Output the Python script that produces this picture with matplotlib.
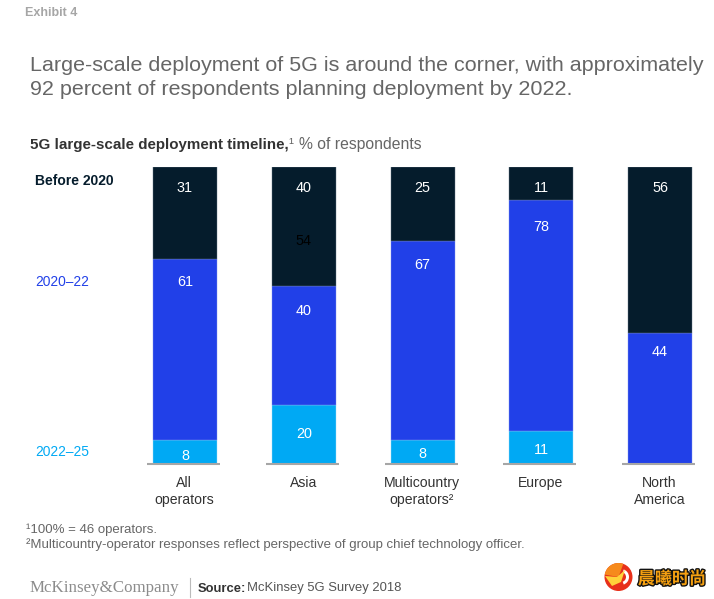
import matplotlib
matplotlib.use("Agg")
import matplotlib.pyplot as plt
from matplotlib.patches import Circle, Wedge, Polygon
import matplotlib.patheffects as pe

plt.rcParams['font.family'] = ['Liberation Sans', 'DejaVu Sans']

categories = ["All\noperators", "Asia", "Multicountry\noperators\u00b2", "Europe", "North\nAmerica"]
before_2020 = [31, 40, 25, 11, 56]
y2020_22 = [61, 40, 67, 78, 44]
y2022_25 = [8, 20, 8, 11, 0]
stray_label = "54"

DARK, BLUE, CYAN = "#051C2C", "#2140E8", "#00A9F4"
W, H = 714, 599
fig = plt.figure(figsize=(W/100, H/100), dpi=100, facecolor="white")

def T(x, y, s, **k):
    k.setdefault("va", "center")
    return fig.text(x/W, 1-(y+1.5)/H, s, **k)

ax = fig.add_axes([125/W, 1-464/H, (714-125)/W, 297/H])
spacing = 118.75
ax.set_xlim((125-185)/spacing, (714-185)/spacing)
ax.set_ylim(0, 100)
xs = list(range(len(categories)))
bw = 64/spacing
ax.bar(xs, y2022_25, bw, color=CYAN, edgecolor="#9FDBF8", linewidth=0.3)
ax.bar(xs, y2020_22, bw, bottom=y2022_25, color=BLUE, edgecolor="#8496EE", linewidth=0.3)
bot = [a+b for a, b in zip(y2022_25, y2020_22)]
ax.bar(xs, before_2020, bw, bottom=bot, color=DARK, edgecolor="#6A7C88", linewidth=0.3)

for spine in ax.spines.values():
    spine.set_visible(False)
ax.set_yticks([])
ax.set_xticks([x-0.005 for x in xs], categories, fontsize=10.1, color="#333333", linespacing=1.25)
ax.tick_params(axis="x", length=0, pad=8.5)
ax.patch.set_alpha(0)
for x in xs:
    ax.plot([x-38/spacing, x+35/spacing], [0, 0], color="#A6A6A6", lw=1.5, clip_on=False,
            solid_capstyle="butt", zorder=5)

# label drop below each segment's top edge, in pixels
drop_top = [21, 21, 21, 21, 21]
drop_mid = [23, 25, 24, 27, 19]
drop_low = [16, 29, 14, 19, 0]
vk = dict(ha="center", va="center", color="white", fontsize=10.4,
          textcoords="offset points")
for x, t, d in zip(xs, before_2020, drop_top):
    ax.annotate(str(t), (x, 100), xytext=(0, -d*0.72), **vk)
for x, b, c, d in zip(xs, y2020_22, y2022_25, drop_mid):
    ax.annotate(str(b), (x, b+c), xytext=(0, -d*0.72), **vk)
for x, c, d in zip(xs, y2022_25, drop_low):
    if c:
        ax.annotate(str(c), (x, c), xytext=(0, -d*0.72), **vk)
ax.annotate(stray_label, (1, 100), xytext=(0, -74*0.72), textcoords="offset points",
            ha="center", va="center", color="#000000", fontsize=10.4)

# header
T(25, 12, "Exhibit 4", fontsize=9, fontweight="bold", color="#A6A6A6")
T(30, 64, "Large-scale deployment of 5G is around the corner, with approximately", fontsize=15.45, color="#666666")
T(30, 88, "92 percent of respondents planning deployment by 2022.", fontsize=15.45, color="#666666")
T(30, 147, "5G large-scale deployment timeline,", fontsize=10.9, fontweight="bold", color="#333333", va="baseline")
T(288, 147, "\u00b9", fontsize=10.6, color="#666666", va="baseline")
T(299, 147, "% of respondents", fontsize=11.3, color="#666666", va="baseline")

# series labels
T(35, 179.5, "Before 2020", fontsize=10, fontweight="bold", color=DARK)
T(35, 280, "2020\u201322", fontsize=9.9, color=BLUE)
T(35, 451, "2022\u201325", fontsize=9.9, color=CYAN)

# footnotes
T(26, 528, "\u00b9100% = 46 operators.", fontsize=9.5, color="#666666")
T(26, 543, "\u00b2Multicountry-operator responses reflect perspective of group chief technology officer.", fontsize=9.5, color="#666666")

# footer
T(30, 586, "McKinsey&Company", fontsize=12.2, family="Liberation Serif", color="#8C8C8C")
fig.add_artist(plt.Line2D([189.5/W, 189.5/W], [1-597/H, 1-578/H], color="#BBBBBB", lw=0.8))
T(198, 590, "Source:", fontsize=9.4, fontweight="bold", color="#333333", va="baseline")
T(247, 590, "McKinsey 5G Survey 2018", fontsize=9.4, color="#555555", va="baseline")

# watermark
lax = fig.add_axes([0, 0, 1, 1], zorder=6)
lax.set_xlim(0, W); lax.set_ylim(H, 0); lax.axis("off")
lax.add_patch(Circle((618.5, 577), 14, color="#E8301A", lw=0))
lax.add_patch(Wedge((618.5, 577), 14, 190, 290, color="#F68A1C", lw=0))
lax.add_patch(Wedge((621, 577), 8, 290, 70, width=3, color="white", lw=0))
lax.add_patch(Polygon([(605, 576), (617, 577), (625, 570), (621, 582), (612, 586)], color="#FFD23A", lw=0))
T(672, 577.5, "\u6668\u66e6\u65f6\u5c1a", ha="center", fontsize=12.3, fontweight="bold",
  family=["Noto Sans CJK SC", "DejaVu Sans"], color="#F5A011", zorder=7,
  path_effects=[pe.withStroke(linewidth=2, foreground="#111111")])

fig.savefig("out.png", dpi=100)
